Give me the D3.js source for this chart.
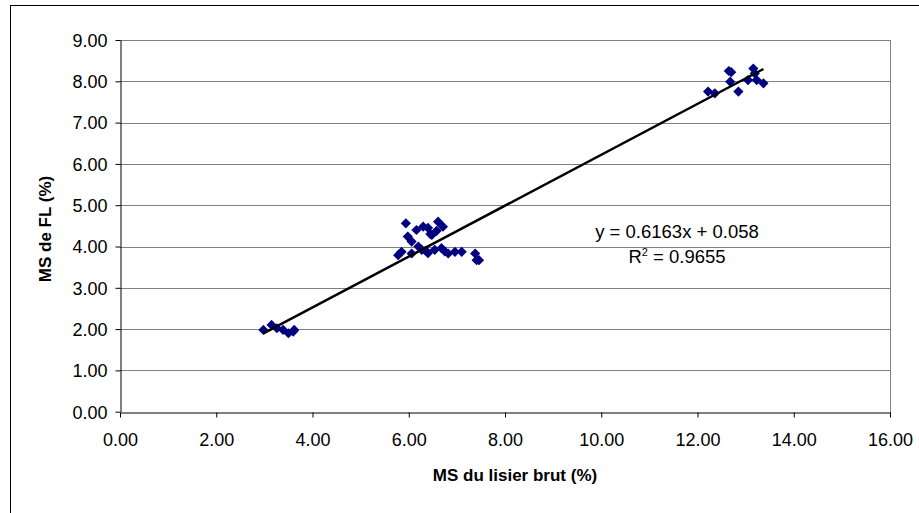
<!DOCTYPE html>
<html><head><meta charset="utf-8">
<script src="https://cdn.jsdelivr.net/npm/d3@7"></script>
<style>body{margin:0;background:#fff;} svg{display:block;font-family:"Liberation Sans",Arial,sans-serif;}</style>
</head><body>
<svg id="c" width="919" height="513"></svg>
<script>
const xValues = [2.98,3.15,3.26,3.39,3.50,3.60,3.62,
  5.78,5.85,5.94,5.98,6.06,6.06,6.16,6.20,6.27,6.30,6.35,6.40,6.40,6.45,6.48,6.54,6.58,6.61,6.68,6.71,6.75,6.82,6.96,7.10,7.38,7.41,7.46,
  12.22,12.36,12.65,12.70,12.68,12.85,13.05,13.16,13.19,13.23,13.37];
const yValues = [1.98,2.10,2.02,1.98,1.90,1.94,1.98,
  3.79,3.87,4.56,4.24,4.12,3.83,4.40,4.00,3.92,4.48,3.90,4.45,3.84,4.30,4.28,3.92,4.38,4.60,3.96,4.48,3.88,3.83,3.87,3.87,3.83,3.67,3.67,
  7.75,7.71,8.25,8.22,7.99,7.75,8.03,8.31,8.19,8.03,7.95];
const xTicks = [0,2,4,6,8,10,12,14,16];
const yTicks = [0,1,2,3,4,5,6,7,8,9];
const slope = 0.6163, intercept = 0.058;
const eqLabel = "y = 0.6163x + 0.058";
const r2Label = "0.9655";
const xTitle = "MS du lisier brut (%)";
const yTitle = "MS de FL (%)";

const svg = d3.select("#c");
const L=120,R=890,T=40,B=411.7;
const x = d3.scaleLinear().domain([0,16]).range([L,R]);
const y = d3.scaleLinear().domain([0,9]).range([B,T]);

svg.append("rect").attr("x",10.5).attr("y",5.5).attr("width",1000).attr("height",1000)
  .attr("fill","none").attr("stroke","#000").attr("stroke-width",1);

svg.append("g").selectAll("line").data(yTicks.filter(d=>d>0)).join("line")
  .attr("x1",L).attr("x2",R).attr("y1",d=>Math.round(y(d))+0.5).attr("y2",d=>Math.round(y(d))+0.5)
  .attr("stroke","#808080").attr("stroke-width",1);
svg.append("line").attr("x1",R+0.5).attr("x2",R+0.5).attr("y1",T).attr("y2",B+5).attr("stroke","#808080");

const xa = svg.append("g").attr("transform",`translate(0,${Math.round(B)+0.5})`)
  .call(d3.axisBottom(x).tickValues(xTicks).tickFormat(d3.format(".2f")).tickSize(5).tickSizeOuter(0));
const ya = svg.append("g").attr("transform",`translate(${L+0.5},0)`)
  .call(d3.axisLeft(y).tickValues(yTicks).tickFormat(d3.format(".2f")).tickSize(5).tickSizeOuter(0));
[xa,ya].forEach(g=>{
  g.attr("font-size",null).attr("font-family",null);
  g.select(".domain").attr("stroke","#000");
  g.selectAll(".tick line").attr("stroke","#000");
  g.selectAll("text").attr("fill","#000").style("font-size","18px").style("font-family","Liberation Sans, Arial, sans-serif");
});
xa.selectAll("text").attr("dy",null).attr("y",33);
ya.selectAll("text").attr("x",-13).attr("dy","0.35em");

const sym = d3.symbol().type(d3.symbolSquare).size(52);
svg.append("g").selectAll("path").data(xValues.map((v,i)=>[v,yValues[i]])).join("path")
  .attr("d",sym).attr("transform",d=>`translate(${x(d[0])},${y(d[1])}) rotate(45)`)
  .attr("fill","#000080");

const xmin = d3.min(xValues), xmax = d3.max(xValues);
svg.append("line").attr("x1",x(xmin)).attr("y1",y(slope*xmin+intercept))
  .attr("x2",x(xmax)).attr("y2",y(slope*xmax+intercept))
  .attr("stroke","#000").attr("stroke-width",2.5);

svg.append("text").attr("x",677).attr("y",238).attr("text-anchor","middle").style("font-size","18.5px").text(eqLabel);
const t2 = svg.append("text").attr("x",677).attr("y",263).attr("text-anchor","middle").style("font-size","18.5px");
t2.append("tspan").text("R");
t2.append("tspan").style("font-size","11px").attr("dy","-7").text("2");
t2.append("tspan").attr("dy","7").text(" = "+r2Label);

svg.append("text").attr("x",515).attr("y",481).attr("text-anchor","middle").attr("font-weight","bold").style("font-size","17px").text(xTitle);
svg.append("text").attr("transform","translate(51,229) rotate(-90)").attr("text-anchor","middle").attr("font-weight","bold").style("font-size","17px").text(yTitle);
</script>
</body></html>
